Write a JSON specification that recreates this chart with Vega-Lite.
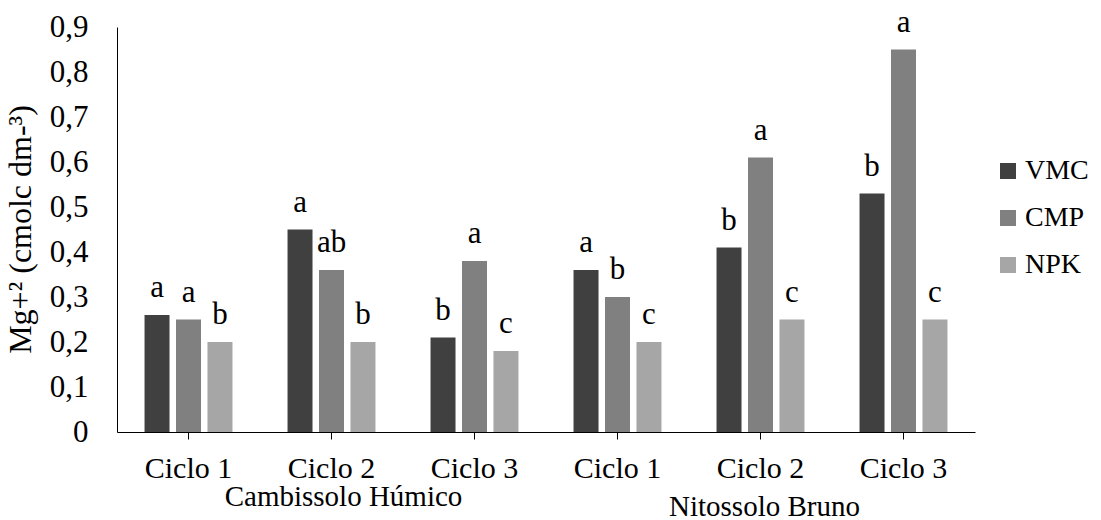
{
  "$schema": "https://vega.github.io/schema/vega-lite/v6.json",
  "width": 858,
  "height": 405,
  "autosize": {"type": "none"},
  "padding": {"left": 117, "top": 27, "right": 126, "bottom": 88},
  "background": "white",
  "config": {
    "font": "Liberation Serif",
    "view": {"stroke": null},
    "axis": {"labelFont": "Liberation Serif", "titleFont": "Liberation Serif", "labelColor": "black", "titleColor": "black", "domainColor": "black", "tickColor": "black", "grid": false},
    "legend": {"labelFont": "Liberation Serif"}
  },
  "resolve": {"scale": {"x": "independent"}, "axis": {"x": "independent"}},
  "layer": [
    {
      "data": {
        "values": [
          {"grupo": "Cambissolo Húmico|Ciclo 1", "trat": "VMC", "valor": 0.26, "letra": "a"},
          {"grupo": "Cambissolo Húmico|Ciclo 1", "trat": "CMP", "valor": 0.25, "letra": "a"},
          {"grupo": "Cambissolo Húmico|Ciclo 1", "trat": "NPK", "valor": 0.20, "letra": "b"},
          {"grupo": "Cambissolo Húmico|Ciclo 2", "trat": "VMC", "valor": 0.45, "letra": "a"},
          {"grupo": "Cambissolo Húmico|Ciclo 2", "trat": "CMP", "valor": 0.36, "letra": "ab"},
          {"grupo": "Cambissolo Húmico|Ciclo 2", "trat": "NPK", "valor": 0.20, "letra": "b"},
          {"grupo": "Cambissolo Húmico|Ciclo 3", "trat": "VMC", "valor": 0.21, "letra": "b"},
          {"grupo": "Cambissolo Húmico|Ciclo 3", "trat": "CMP", "valor": 0.38, "letra": "a"},
          {"grupo": "Cambissolo Húmico|Ciclo 3", "trat": "NPK", "valor": 0.18, "letra": "c"},
          {"grupo": "Nitossolo Bruno|Ciclo 1", "trat": "VMC", "valor": 0.36, "letra": "a"},
          {"grupo": "Nitossolo Bruno|Ciclo 1", "trat": "CMP", "valor": 0.30, "letra": "b"},
          {"grupo": "Nitossolo Bruno|Ciclo 1", "trat": "NPK", "valor": 0.20, "letra": "c"},
          {"grupo": "Nitossolo Bruno|Ciclo 2", "trat": "VMC", "valor": 0.41, "letra": "b"},
          {"grupo": "Nitossolo Bruno|Ciclo 2", "trat": "CMP", "valor": 0.61, "letra": "a"},
          {"grupo": "Nitossolo Bruno|Ciclo 2", "trat": "NPK", "valor": 0.25, "letra": "c"},
          {"grupo": "Nitossolo Bruno|Ciclo 3", "trat": "VMC", "valor": 0.53, "letra": "b"},
          {"grupo": "Nitossolo Bruno|Ciclo 3", "trat": "CMP", "valor": 0.85, "letra": "a"},
          {"grupo": "Nitossolo Bruno|Ciclo 3", "trat": "NPK", "valor": 0.25, "letra": "c"}
        ]
      },
      "encoding": {
        "x": {
          "field": "grupo",
          "type": "nominal",
          "sort": ["Cambissolo Húmico|Ciclo 1", "Cambissolo Húmico|Ciclo 2", "Cambissolo Húmico|Ciclo 3", "Nitossolo Bruno|Ciclo 1", "Nitossolo Bruno|Ciclo 2", "Nitossolo Bruno|Ciclo 3"],
          "scale": {"paddingInner": 0.385, "paddingOuter": 0.1925},
          "axis": {
            "orient": "bottom",
            "title": null,
            "labelAngle": 0,
            "labelFontSize": 30,
            "labelBaseline": "top",
            "labelPadding": 14,
            "tickSize": 7,
            "labelOverlap": false,
            "labelLimit": 0,
            "labelExpr": "split(datum.value, '|')[1]"
          }
        },
        "xOffset": {
          "field": "trat",
          "type": "nominal",
          "sort": ["VMC", "CMP", "NPK"],
          "scale": {"paddingInner": 0.206, "paddingOuter": 0}
        },
        "y": {
          "field": "valor",
          "type": "quantitative",
          "scale": {"domain": [0, 0.9], "nice": false, "zero": true},
          "axis": {
            "title": "Mg+² (cmolc dm-³)",
            "titleFontSize": 32,
            "titleFontWeight": "normal",
            "titleX": -97,
            "titleY": 202,
            "titleAngle": -90,
            "titleAlign": "center",
            "titleBaseline": "middle",
            "labelFontSize": 31,
            "labelPadding": 29,
            "ticks": false,
            "tickSize": 0,
            "values": [0, 0.1, 0.2, 0.3, 0.4, 0.5, 0.6, 0.7, 0.8, 0.9],
            "labelExpr": "datum.value == 0 ? '0' : replace(format(datum.value, '.1f'), '.', ',')"
          }
        }
      },
      "layer": [
        {
          "mark": {"type": "bar"},
          "encoding": {
            "color": {
              "field": "trat",
              "type": "nominal",
              "sort": ["VMC", "CMP", "NPK"],
              "scale": {"domain": ["VMC", "CMP", "NPK"], "range": ["#404040", "#808080", "#a6a6a6"]},
              "legend": {
                "title": null,
                "orient": "none",
                "legendX": 877,
                "legendY": 130,
                "symbolType": "square",
                "symbolSize": 256,
                "symbolStrokeWidth": 0,
                "labelFontSize": 28,
                "labelColor": "black",
                "labelOffset": 3,
                "rowPadding": 19
              }
            }
          }
        },
        {
          "mark": {"type": "text", "fontSize": 31, "baseline": "alphabetic", "dy": -18, "color": "black", "font": "Liberation Serif"},
          "encoding": {"text": {"field": "letra"}}
        }
      ]
    },
    {
      "data": {"values": [{"solo": "Cambissolo Húmico"}, {"solo": "Nitossolo Bruno"}]},
      "mark": {"type": "text", "font": "Liberation Serif"},
      "encoding": {
        "x": {
          "field": "solo",
          "type": "nominal",
          "sort": ["Cambissolo Húmico", "Nitossolo Bruno"],
          "scale": {"type": "band", "paddingInner": 0, "paddingOuter": 0},
          "axis": {
            "orient": "bottom",
            "title": null,
            "domain": false,
            "ticks": false,
            "tickSize": 0,
            "labelAngle": 0,
            "labelFontSize": 29,
            "labelBaseline": "top",
            "labelPadding": {"condition": {"test": "datum.value == 'Nitossolo Bruno'", "value": 60}, "value": 50},
            "labelOffset": {"condition": {"test": "datum.value == 'Nitossolo Bruno'", "value": 4}, "value": 12},
            "labelOverlap": false,
            "labelLimit": 0
          }
        },
        "text": {"value": ""}
      }
    }
  ]
}
